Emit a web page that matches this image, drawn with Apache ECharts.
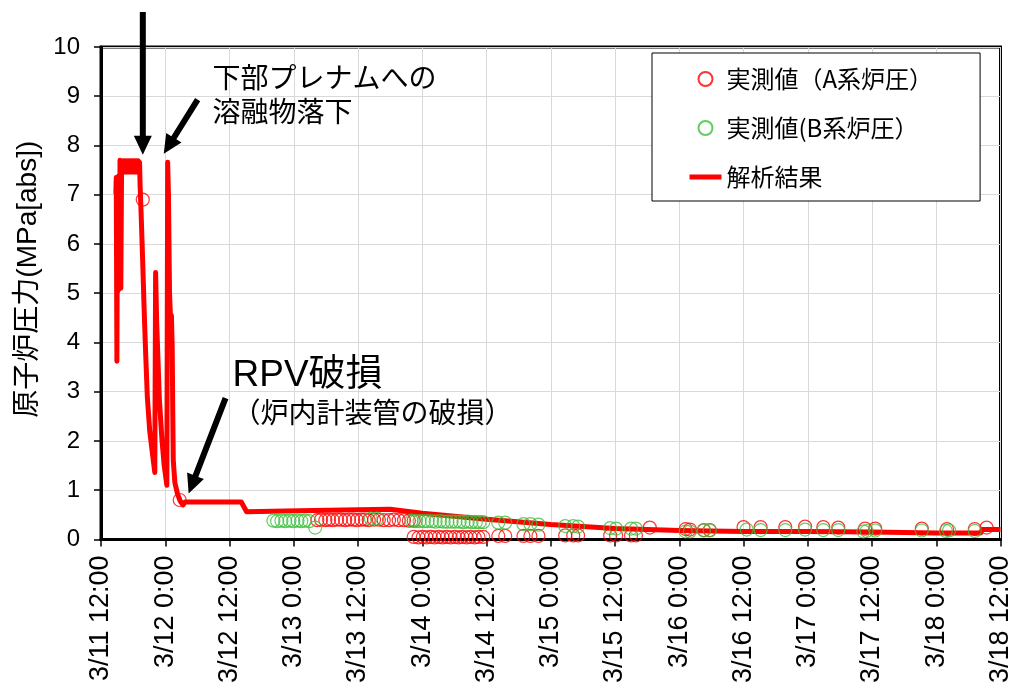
<!DOCTYPE html>
<html>
<head>
<meta charset="utf-8">
<script src="https://cdn.jsdelivr.net/npm/echarts@6/dist/echarts.min.js"></script>
<style>
  html, body { margin: 0; padding: 0; background: #fff; }
  #chart { width: 1014px; height: 686px; }
</style>
</head>
<body>
<div id="chart"></div>
<script>
// Time axis: hours elapsed since 3/11 12:00
const tickLabels = ['3/11 12:00', '3/12 0:00', '3/12 12:00', '3/13 0:00', '3/13 12:00',
  '3/14 0:00', '3/14 12:00', '3/15 0:00', '3/15 12:00', '3/16 0:00', '3/16 12:00',
  '3/17 0:00', '3/17 12:00', '3/18 0:00', '3/18 12:00'];

// Measured reactor pressure, A-system [hours, MPa abs]
const measuredA = [
  [7.8, 6.90], [14.7, 0.80],
  [40.4, 0.39], [41.1, 0.40], [41.9, 0.39], [42.6, 0.40], [43.3, 0.39], [44.1, 0.40],
  [44.8, 0.40], [45.6, 0.39], [46.3, 0.40], [47.1, 0.40], [47.8, 0.39], [48.6, 0.40],
  [49.3, 0.40], [50.0, 0.39], [51.0, 0.40], [51.9, 0.40], [52.8, 0.39], [53.8, 0.39],
  [54.7, 0.40], [55.6, 0.39], [56.6, 0.39], [57.5, 0.38], [58.4, 0.38],
  [58.4, 0.05], [59.3, 0.04], [60.1, 0.05], [60.8, 0.04], [61.6, 0.05], [62.3, 0.04],
  [63.1, 0.05], [63.8, 0.04], [64.6, 0.05], [65.3, 0.04], [66.1, 0.05], [66.8, 0.04],
  [67.5, 0.05], [68.3, 0.04], [69.0, 0.05], [69.8, 0.04], [70.5, 0.05], [71.4, 0.05],
  [74.2, 0.07], [75.5, 0.07], [78.9, 0.07], [80.2, 0.07], [81.7, 0.07],
  [86.7, 0.08], [88.2, 0.08], [89.1, 0.08],
  [95.1, 0.08], [96.2, 0.08], [99.0, 0.08], [99.9, 0.08],
  [102.5, 0.24],
  [109.2, 0.21], [110.0, 0.20], [112.6, 0.19], [113.7, 0.19],
  [120.0, 0.25], [123.2, 0.25], [127.8, 0.25], [131.5, 0.26], [134.9, 0.25], [137.7, 0.24],
  [142.7, 0.22], [144.6, 0.22], [153.3, 0.22], [158.0, 0.21], [163.2, 0.21], [165.4, 0.24]
];

// Measured reactor pressure, B-system [hours, MPa abs]
const measuredB = [
  [32.2, 0.38], [32.9, 0.37], [33.7, 0.38], [34.4, 0.37], [35.2, 0.38], [35.9, 0.37],
  [36.7, 0.38], [37.4, 0.37], [38.1, 0.38], [38.9, 0.37],
  [40.0, 0.24],
  [50.4, 0.42], [51.6, 0.42],
  [58.0, 0.38], [58.8, 0.37], [59.5, 0.37], [60.3, 0.37], [61.0, 0.37], [61.8, 0.37],
  [62.5, 0.36], [63.3, 0.37], [64.0, 0.36], [64.7, 0.36], [65.5, 0.36], [66.2, 0.36],
  [67.0, 0.36], [67.7, 0.35], [68.5, 0.36], [69.2, 0.35], [70.0, 0.35], [70.7, 0.35], [71.4, 0.35],
  [74.2, 0.34], [75.5, 0.34], [78.9, 0.31], [80.2, 0.31], [81.7, 0.30],
  [86.7, 0.27], [88.2, 0.27], [89.1, 0.26],
  [95.1, 0.23], [96.2, 0.22], [99.0, 0.22], [99.9, 0.22],
  [109.2, 0.16], [110.0, 0.16], [112.6, 0.18], [113.7, 0.18],
  [120.6, 0.20], [123.2, 0.19], [127.8, 0.19], [131.5, 0.20], [134.9, 0.19], [137.7, 0.19],
  [142.4, 0.16], [143.0, 0.17], [144.6, 0.18], [153.3, 0.18], [157.8, 0.17], [158.4, 0.18], [163.2, 0.17]
];

// Analysis result [hours, MPa abs]
const analysis = [
  [2.77, 7.02], [2.85, 7.35], [2.97, 3.62], [3.08, 7.36], [3.20, 5.05], [3.32, 7.38],
  [3.45, 5.20], [3.55, 7.70], [3.70, 5.10], [3.85, 7.68],
  [3.98, 7.46], [4.10, 7.69], [4.23, 7.46], [4.36, 7.69], [4.49, 7.46], [4.62, 7.69],
  [4.75, 7.46], [4.88, 7.69], [5.01, 7.46], [5.14, 7.69], [5.27, 7.46], [5.40, 7.69],
  [5.53, 7.46], [5.66, 7.69], [5.79, 7.46], [5.92, 7.69], [6.05, 7.46], [6.18, 7.69],
  [6.31, 7.46], [6.44, 7.69], [6.57, 7.46], [6.70, 7.69], [6.83, 7.46], [6.96, 7.69],
  [7.09, 7.46], [7.20, 7.66],
  [7.30, 7.20], [7.50, 6.60], [7.80, 5.60], [8.05, 4.70], [8.30, 3.90], [8.65, 2.90],
  [9.10, 2.20], [9.60, 1.75], [10.05, 1.36],
  [10.20, 5.42], [10.40, 4.40], [10.90, 2.85], [11.40, 2.00], [11.80, 1.50], [12.30, 1.10],
  [12.45, 7.66], [12.60, 7.00], [12.80, 5.00], [12.95, 4.60], [13.05, 4.10], [13.15, 4.55],
  [13.30, 3.90], [13.40, 2.60], [13.50, 1.60], [13.80, 1.15], [14.30, 0.92], [14.80, 0.78],
  [15.30, 0.70], [15.70, 0.76],
  [26.2, 0.76], [27.2, 0.56], [37.0, 0.58], [48.0, 0.60], [54.0, 0.61], [60.0, 0.53],
  [72.0, 0.41], [84.0, 0.30], [96.0, 0.22], [108.0, 0.18], [120.0, 0.16], [132.0, 0.16],
  [144.0, 0.15], [156.0, 0.13], [164.3, 0.13], [164.6, 0.20], [168.0, 0.20]
];

const seriesNames = ['実測値（A系炉圧）', '実測値(B系炉圧）', '解析結果'];

const FONT = "'Liberation Sans', 'Noto Sans CJK JP', sans-serif";
const JP = "'Noto Sans CJK JP', sans-serif";

const chart = echarts.init(document.getElementById('chart'), null, { renderer: 'canvas' });

const option = {
  animation: false,
  backgroundColor: '#fff',
  grid: {
    left: 101, top: 47, right: 10, bottom: 145,
    show: true, borderColor: '#000', borderWidth: 3, backgroundColor: 'transparent'
  },
  legend: {
    data: [
      { name: seriesNames[0] },
      { name: seriesNames[1] },
      // the analysis entry shows only its line, no point marker
      { name: seriesNames[2], itemStyle: { opacity: 0 }, lineStyle: { color: '#ff0000', width: 5, opacity: 1 } }
    ],
    orient: 'vertical',
    left: 652, top: 53,
    padding: [14, 47, 12, 35],
    itemWidth: 32, itemHeight: 14, itemGap: 25,
    backgroundColor: '#fff', borderColor: '#000', borderWidth: 1,
    selectedMode: false,
    textStyle: { fontSize: 24, lineHeight: 24, color: '#000', fontFamily: JP }
  },
  xAxis: {
    type: 'value', min: 0, max: 168, interval: 12,
    axisLine: { onZero: false, lineStyle: { color: '#000', width: 3 } },
    axisTick: { show: true, inside: false, length: 7, lineStyle: { color: '#000', width: 1.5 } },
    axisLabel: {
      rotate: 90, margin: 16, fontSize: 27, color: '#000', fontFamily: FONT,
      showMinLabel: true, showMaxLabel: true,
      formatter: v => tickLabels[Math.round(v / 12)]
    },
    splitLine: { show: true, lineStyle: { color: '#d9d9d9', width: 1 } }
  },
  yAxis: {
    type: 'value', min: 0, max: 10, interval: 1,
    name: '原子炉圧力(MPa[abs])', nameLocation: 'middle', nameGap: 58,
    nameTextStyle: { fontSize: 28, color: '#000', fontFamily: FONT, padding: [0, 0, 0, 28] },
    axisLine: { show: true, lineStyle: { color: '#000', width: 3 } },
    axisTick: { show: true, inside: false, length: 7, lineStyle: { color: '#000', width: 1.5 } },
    axisLabel: { margin: 21, fontSize: 24, color: '#000', fontFamily: FONT },
    splitLine: { show: true, lineStyle: { color: '#d9d9d9', width: 1 } }
  },
  series: [
    {
      name: seriesNames[0], type: 'scatter', data: measuredA, z: 3,
      symbol: 'circle', symbolSize: 13,
      itemStyle: { color: 'rgba(0,0,0,0)', borderColor: '#ff0000', borderWidth: 1.2 }
    },
    {
      name: seriesNames[1], type: 'scatter', data: measuredB, z: 4,
      symbol: 'circle', symbolSize: 13,
      itemStyle: { color: 'rgba(0,0,0,0)', borderColor: '#3cbf3c', borderWidth: 1.2 }
    },
    {
      name: seriesNames[2], type: 'line', data: analysis, z: 2,
      symbol: 'none', showSymbol: false,
      lineStyle: { color: '#ff0000', width: 5, join: 'round' },
      itemStyle: { color: '#ff0000' }
    }
  ]
};

chart.setOption(option);

// Annotation arrows and captions, anchored in data units [hours, MPa]
const arrows = [
  { from: [7.81, 10.71], to: [7.81, 7.81] },
  { from: [18.05, 8.93], to: [11.72, 7.83] },
  { from: [23.26, 2.87], to: [16.37, 0.93] }
];
const captions = [
  { text: '下部プレナムへの', at: [20.84, 9.39], size: 28, family: JP },
  { text: '溶融物落下', at: [20.84, 8.70], size: 28, family: JP },
  { text: 'RPV破損', at: [24.56, 3.32], size: 37, family: FONT },
  { text: '（炉内計装管の破損）', at: [24.56, 2.57], size: 28, family: JP }
];

function toPx(pt) {
  return chart.convertToPixel({ xAxisIndex: 0, yAxisIndex: 0 }, pt);
}

function arrowPolygon(tail, tip, halfShaft, headLen, halfHead) {
  const dx = tip[0] - tail[0], dy = tip[1] - tail[1];
  const len = Math.hypot(dx, dy);
  const ux = dx / len, uy = dy / len;
  const nx = -uy, ny = ux;
  const bx = tip[0] - ux * headLen, by = tip[1] - uy * headLen;
  return [
    [tail[0] + nx * halfShaft, tail[1] + ny * halfShaft],
    [bx + nx * halfShaft, by + ny * halfShaft],
    [bx + nx * halfHead, by + ny * halfHead],
    [tip[0], tip[1]],
    [bx - nx * halfHead, by - ny * halfHead],
    [bx - nx * halfShaft, by - ny * halfShaft],
    [tail[0] - nx * halfShaft, tail[1] - ny * halfShaft]
  ];
}

const graphics = [];
arrows.forEach(a => {
  graphics.push({
    type: 'polygon', z: 100,
    shape: { points: arrowPolygon(toPx(a.from), toPx(a.to), 3, 19, 9) },
    style: { fill: '#000' }
  });
});
captions.forEach(c => {
  const p = toPx(c.at);
  graphics.push({
    type: 'text', z: 100, x: p[0], y: p[1],
    style: {
      text: c.text, fontSize: c.size, fontFamily: c.family, fill: '#000',
      align: 'left', verticalAlign: 'middle'
    }
  });
});
chart.setOption({ graphic: graphics });
</script>
</body>
</html>
